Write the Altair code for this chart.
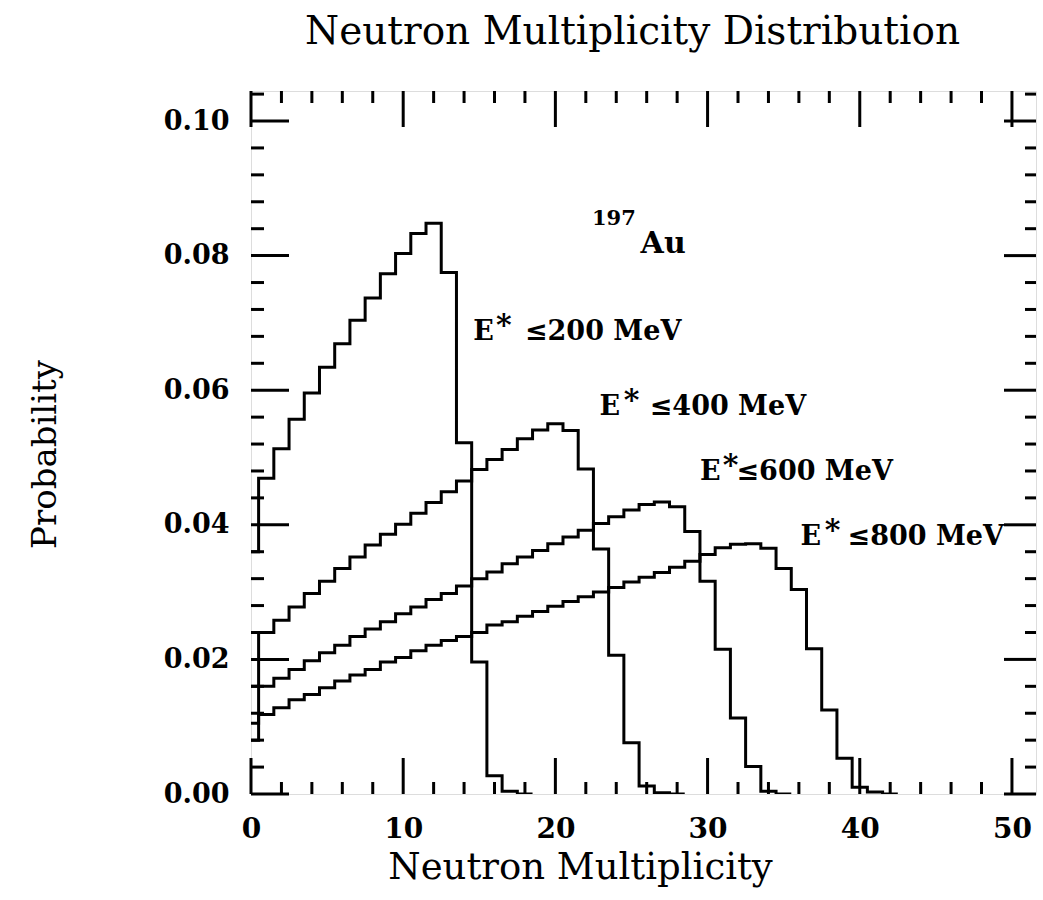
import altair as alt
import pandas as pd

# ---- data (bins of neutron multiplicity 0,1,2,...) ----
p_200 = [0.036, 0.0469, 0.0513, 0.0557, 0.0596, 0.0634, 0.0669, 0.0704, 0.0737,
         0.0773, 0.0803, 0.0833, 0.0848, 0.0775, 0.0522, 0.0196, 0.0027, 0.0004, 0.0]
p_400 = [0.016, 0.0240, 0.0258, 0.0278, 0.0298, 0.0316, 0.0335, 0.0352, 0.0370,
         0.0386, 0.0401, 0.0417, 0.0433, 0.0449, 0.0465, 0.0482, 0.0497, 0.0512,
         0.0528, 0.0541, 0.0550, 0.0540, 0.0483, 0.0364, 0.0206, 0.0076, 0.0012,
         0.0002, 0.0]
p_600 = [0.0105, 0.0160, 0.0172, 0.0185, 0.0198, 0.0210, 0.0221, 0.0234, 0.0245,
         0.0256, 0.0268, 0.0278, 0.0289, 0.0298, 0.0309, 0.0320, 0.0330, 0.0342,
         0.0352, 0.0362, 0.0372, 0.0382, 0.0392, 0.0402, 0.0412, 0.0422, 0.0430,
         0.0434, 0.0427, 0.0390, 0.0316, 0.0215, 0.0113, 0.0041, 0.0004, 0.0]
p_800 = [0.008, 0.0118, 0.0128, 0.0140, 0.0148, 0.0158, 0.0168, 0.0177, 0.0185,
         0.0196, 0.0203, 0.0213, 0.0221, 0.0228, 0.0234, 0.0240, 0.0251, 0.0256,
         0.0264, 0.0271, 0.0279, 0.0286, 0.0293, 0.0300, 0.0307, 0.0315, 0.0322,
         0.0329, 0.0337, 0.0346, 0.0356, 0.0366, 0.0371, 0.0372, 0.0365, 0.0335,
         0.0304, 0.0216, 0.0125, 0.0053, 0.0010, 0.0003, 0.0]
series_names = ["E*<=200 MeV", "E*<=400 MeV", "E*<=600 MeV", "E*<=800 MeV"]

x_major = [0, 10, 20, 30, 40, 50]
x_minor = [2, 4, 6, 8, 12, 14, 16, 18, 22, 24, 26, 28, 32, 34, 36, 38,
           42, 44, 46, 48]
y_major = [0.0, 0.02, 0.04, 0.06, 0.08, 0.10]
y_minor = [0.004, 0.008, 0.012, 0.016, 0.024, 0.028, 0.032, 0.036, 0.044,
           0.048, 0.052, 0.056, 0.064, 0.068, 0.072, 0.076, 0.084, 0.088,
           0.092, 0.096, 0.104]

# ---- build step-histogram outlines (bin n spans n-0.5 .. n+0.5) ----
rows = []
for name, vals in zip(series_names, [p_200, p_400, p_600, p_800]):
    for n, v in enumerate(vals):
        rows.append({"series": name, "order": 2 * n, "x": max(n - 0.5, 0.0), "p": v})
        rows.append({"series": name, "order": 2 * n + 1, "x": n + 0.5, "p": v})
steps = pd.DataFrame(rows)

W, H = 785, 703
FONT = "DejaVu Serif"
xscale = alt.Scale(domain=[0, 51.58], nice=False, zero=False)
yscale = alt.Scale(domain=[0, 0.10446], nice=False, zero=False)

x_axis = alt.Axis(
    values=x_major, format="d", ticks=False, tickSize=0, domain=False, grid=False,
    labelFont=FONT, labelFontWeight="bold", labelFontSize=28, labelColor="black",
    labelPadding=21, labelFlush=False, labelOverlap=False,
    title="Neutron Multiplicity", titleFont=FONT, titleFontWeight="normal",
    titleFontSize=37, titleColor="black", titleX=329, titleY=84,
    titleAlign="center", titleBaseline="alphabetic")
y_axis = alt.Axis(
    values=y_major, format=".2f", ticks=False, tickSize=0, domain=False, grid=False,
    labelFont=FONT, labelFontWeight="bold", labelFontSize=27, labelColor="black",
    labelPadding=22, labelFlush=False, labelOverlap=False,
    title="Probability", titleFont=FONT, titleFontWeight="normal",
    titleFontSize=34, titleColor="black", titleX=-206, titleY=363,
    titleAngle=270, titleAlign="center", titleBaseline="middle")

X = lambda: alt.X("x:Q", scale=xscale, axis=x_axis)
Y = lambda: alt.Y("p:Q", scale=yscale, axis=y_axis)

lines = alt.Chart(steps).mark_line(
    color="black", strokeWidth=3, clip=True, strokeJoin="miter"
).encode(x=X(), y=Y(), detail="series:N", order="order:Q")

def xticks(vals, length):
    base = alt.Chart(pd.DataFrame({"x": vals})).mark_rule(color="black", strokeWidth=3)
    bottom = base.encode(x=X(), y=alt.value(H), y2=alt.value(H - length))
    top = base.encode(x=X(), y=alt.value(0), y2=alt.value(length))
    return [bottom, top]

def yticks(vals, left_len, right_len):
    base = alt.Chart(pd.DataFrame({"p": vals})).mark_rule(color="black", strokeWidth=3)
    left = base.encode(y=Y(), x=alt.value(0), x2=alt.value(left_len))
    right = base.encode(y=Y(), x=alt.value(W), x2=alt.value(W - right_len))
    return [left, right]

tick_layers = (xticks(x_major, 36) + xticks(x_minor, 12)
               + yticks(y_major, 38, 32) + yticks(y_minor, 13, 11))

def label(text, x, y, size, dy=0):
    return alt.Chart(pd.DataFrame({"t": [text]})).mark_text(
        font=FONT, fontWeight="bold", fontSize=size, color="black",
        align="left", baseline="alphabetic", dy=dy
    ).encode(x=alt.datum(x), y=alt.datum(y), text="t:N")

annotations = [
    label("197", 22.4, 0.0845, 21),
    label("Au", 25.6, 0.0804, 30),
    label("E", 14.6, 0.0675, 27), label("*", 16.1, 0.0675, 30, dy=-5),
    label("≤200 MeV", 18.0, 0.0675, 27),
    label("E", 22.9, 0.0563, 27), label("*", 24.5, 0.0563, 30, dy=-5),
    label("≤400 MeV", 26.2, 0.0563, 27),
    label("E", 29.5, 0.0467, 27), label("*", 31.0, 0.0467, 30, dy=-5),
    label("≤600 MeV", 31.9, 0.0467, 27),
    label("E", 36.1, 0.0370, 27), label("*", 37.7, 0.0370, 30, dy=-5),
    label("≤800 MeV", 39.2, 0.0370, 27),
]

chart = alt.layer(lines, *tick_layers, *annotations).properties(
    width=W, height=H,
    autosize=alt.AutoSizeParams(type="none"),
    padding={"left": 251, "top": 91, "right": 7, "bottom": 106},
    title=alt.TitleParams(
        "Neutron Multiplicity Distribution", font=FONT, fontSize=39,
        fontWeight="normal", color="black", anchor="middle", dx=-11,
        offset=7, baseline="alphabetic"),
).configure_view(stroke="black", strokeWidth=3.5).configure(background="white")

chart.save("out.html", embed_options={"renderer": "svg", "actions": False})
